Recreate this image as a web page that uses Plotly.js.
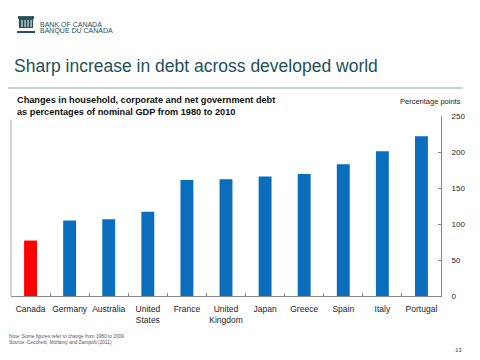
<!DOCTYPE html>
<html>
<head>
<meta charset="utf-8">
<script src="https://cdn.plot.ly/plotly-3.0.1.min.js"></script>
<style>
html,body{margin:0;padding:0;background:#fff;}
#chart{width:480px;height:360px;}
</style>
</head>
<body>
<div id="chart"></div>
<script>
var countries = ["Canada", "Germany", "Australia", "United<br>States", "France", "United<br>Kingdom", "Japan", "Greece", "Spain", "Italy", "Portugal"];
var debtChange = [77, 105, 106.5, 117, 161, 162, 166, 169.5, 183, 201, 222];
var barColors = ["#ff0000", "#0a6ebd", "#0a6ebd", "#0a6ebd", "#0a6ebd", "#0a6ebd", "#0a6ebd", "#0a6ebd", "#0a6ebd", "#0a6ebd", "#0a6ebd"];
var yTicks = [0, 50, 100, 150, 200, 250];

var teal = "#23505a";
var trace = {
  type: "bar",
  x: countries,
  y: debtChange,
  marker: {color: barColors, line: {width: 0}},
  hoverinfo: "none"
};

var layout = {
  width: 480, height: 360,
  margin: {l: 11, r: 39, t: 116, b: 64, pad: 0},
  paper_bgcolor: "#ffffff",
  plot_bgcolor: "#ffffff",
  showlegend: false,
  bargap: 0.67,
  font: {family: "Liberation Sans, Arial, sans-serif", color: "#222", size: 8},
  xaxis: {
    type: "category",
    showline: true, linecolor: "#888", linewidth: 1,
    ticks: "inside", ticklen: 3, tickcolor: "#888", tickson: "boundaries",
    tickangle: 0,
    ticklabelstandoff: 5,
    showgrid: false, zeroline: false,
    tickfont: {size: 8.5, color: "#222"},
    fixedrange: true
  },
  yaxis: {
    side: "right",
    range: [0, 250],
    tickvals: yTicks,
    ticktext: yTicks.map(String),
    showline: true, linecolor: "#888", linewidth: 1,
    ticks: "inside", ticklen: 3, tickcolor: "#888",
    showgrid: false, zeroline: false,
    tickfont: {size: 8, color: "#222"},
    ticklabelstandoff: 8,
    fixedrange: true
  },
  shapes: [
    // left border of the plot
    {type: "line", xref: "paper", yref: "paper", x0: 0, x1: 0, y0: 0, y1: 0.98, line: {color: "#aaa", width: 1}},
    // header rule
    {type: "line", xref: "paper", yref: "paper", x0: -0.007, x1: 1.051, y0: 1.156, y1: 1.156, line: {color: "#c8d3d3", width: 2}},
    // logo: roof
    {type: "rect", xref: "paper", yref: "paper", x0: 0.0163, x1: 0.0535, y0: 1.539, y1: 1.555, fillcolor: teal, line: {width: 0}},
    // logo: body
    {type: "rect", xref: "paper", yref: "paper", x0: 0.0186, x1: 0.0512, y0: 1.489, y1: 1.539, fillcolor: teal, line: {width: 0}},
    // logo: base
    {type: "rect", xref: "paper", yref: "paper", x0: 0.014, x1: 0.056, y0: 1.461, y1: 1.472, fillcolor: teal, line: {width: 0}},
    // logo: column lines
    {type: "line", xref: "paper", yref: "paper", x0: 0.0256, x1: 0.0256, y0: 1.494, y1: 1.534, line: {color: "#ffffff", width: 1}},
    {type: "line", xref: "paper", yref: "paper", x0: 0.0326, x1: 0.0326, y0: 1.494, y1: 1.534, line: {color: "#ffffff", width: 1}},
    {type: "line", xref: "paper", yref: "paper", x0: 0.0396, x1: 0.0396, y0: 1.494, y1: 1.534, line: {color: "#ffffff", width: 1}},
    {type: "line", xref: "paper", yref: "paper", x0: 0.0466, x1: 0.0466, y0: 1.494, y1: 1.534, line: {color: "#ffffff", width: 1}}
  ],
  annotations: [
    {xref: "paper", yref: "paper", x: 0.062, y: 1.506, xanchor: "left", yanchor: "middle", showarrow: false,
     text: "BANK OF CANADA", align: "left", font: {size: 7, color: teal}},
    {xref: "paper", yref: "paper", x: 0.062, y: 1.472, xanchor: "left", yanchor: "middle", showarrow: false,
     text: "BANQUE DU CANADA", align: "left", font: {size: 7, color: teal}},
    {xref: "paper", yref: "paper", x: 0.002, y: 1.278, xanchor: "left", yanchor: "middle", showarrow: false,
     text: "Sharp increase in debt across developed world", font: {size: 17.5, color: teal, family: "Liberation Sans, Arial, sans-serif"}},
    {xref: "paper", yref: "paper", x: 0.009, y: 0.985, xanchor: "left", yanchor: "bottom", showarrow: false,
     text: "<b>Changes in household, corporate and net government debt<br>as percentages of nominal GDP from 1980 to 2010</b>", align: "left", font: {size: 9.2, color: "#111"}},
    {xref: "paper", yref: "paper", x: 1.05, y: 1.045, xanchor: "right", yanchor: "bottom", showarrow: false,
     text: "Percentage points", font: {size: 7.5, color: "#222"}},
    {xref: "paper", yref: "paper", x: -0.01, y: -0.2, xanchor: "left", yanchor: "top", showarrow: false,
     text: "Note: Some figures refer to change from 1980 to 2009<br>Source: Cecchetti, Mohanty and Zampolli (2011)", align: "left", font: {size: 4.8, color: "#555"}},
    {xref: "paper", yref: "paper", x: 1.04, y: -0.3, xanchor: "center", yanchor: "middle", showarrow: false,
     text: "13", font: {size: 6, color: teal}}
  ]
};

Plotly.newPlot("chart", [trace], layout, {staticPlot: true, displayModeBar: false});
</script>
</body>
</html>
